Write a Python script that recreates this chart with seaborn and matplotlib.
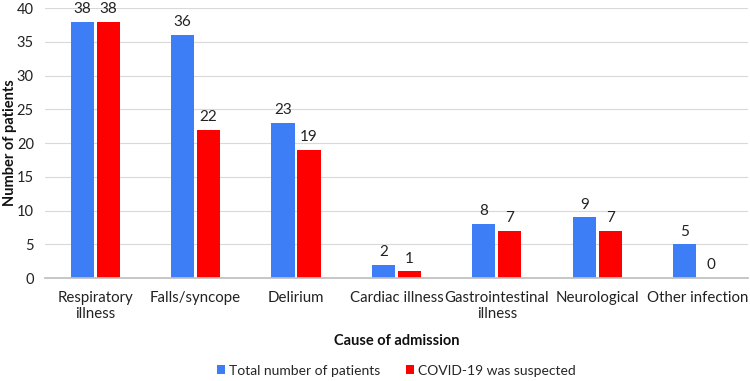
import matplotlib
matplotlib.use("Agg")
import matplotlib.pyplot as plt
import seaborn as sns
import pandas as pd

categories = ["Respiratory\nillness", "Falls/syncope", "Delirium", "Cardiac illness",
              "Gastrointestinal\nillness", "Neurological", "Other infection"]
total = [38, 36, 23, 2, 8, 9, 5]
suspected = [38, 22, 19, 1, 7, 7, 0]
series = ["Total number of patients", "COVID-19 was suspected"]

df = pd.DataFrame({
    "cat": categories * 2,
    "val": total + suspected,
    "series": [series[0]] * len(categories) + [series[1]] * len(categories),
})

sns.set_theme(style="white")
plt.rcParams['font.family'] = ['Lato', 'DejaVu Sans']

fig = plt.figure(figsize=(7.5, 3.81), dpi=100)
ax = fig.add_axes([0.06, 0.2703, 0.9373, 0.7087])
palette = {series[0]: "#3D7EF6", series[1]: "#FF0000"}
sns.barplot(data=df, x="cat", y="val", hue="series", palette=palette,
            width=0.518, gap=0.11, ax=ax, legend=True, saturation=1, linewidth=0)

for cont in ax.containers:
    ax.bar_label(cont, padding=4, fontsize=11, color="#222222")

ax.set_ylim(0, 40)
ax.set_yticks(range(0, 41, 5))
ax.set_xlim(-0.5, len(categories) - 0.5)
ax.yaxis.grid(True, color="#D9D9D9", linewidth=0.8)
ax.set_axisbelow(True)
for s in ["top", "right", "left"]:
    ax.spines[s].set_visible(False)
ax.spines["bottom"].set_color("#BFBFBF")
ax.tick_params(axis="x", labelsize=10.8, colors="#222222", length=0, pad=9)
ax.tick_params(axis="y", labelsize=10.5, colors="#222222", length=0, pad=8)
ax.set_xlabel("Cause of admission", fontsize=10.5, fontweight="bold", color="#111111", va="center")
ax.xaxis.set_label_coords(0.5, -0.233)
ax.set_ylabel("Number of patients", fontsize=10.5, fontweight="bold", color="#111111", va="center")
ax.yaxis.set_label_coords(-0.05, 0.5)

ax.legend(loc="center", bbox_to_anchor=(0.5, -0.343), ncol=2, frameon=False,
          fontsize=10, handlelength=0.6, handleheight=0.6, columnspacing=1.8, handletextpad=0.3)

fig.savefig("out.png", dpi=100)
